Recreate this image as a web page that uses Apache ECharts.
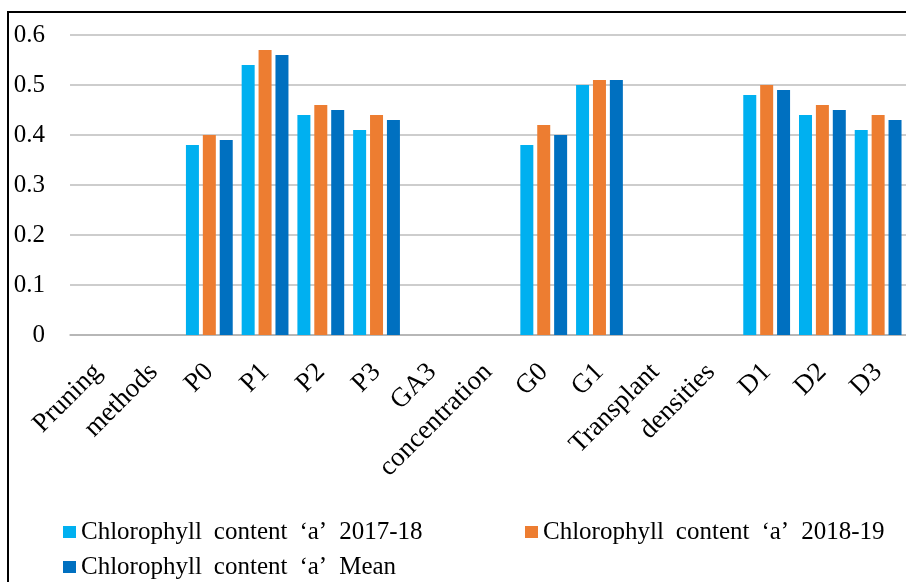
<!DOCTYPE html>
<html>
<head>
<meta charset="utf-8">
<script src="https://cdn.jsdelivr.net/npm/echarts@6/dist/echarts.min.js"></script>
<style>
  html, body { margin: 0; padding: 0; background: #ffffff; }
  #chart { width: 906px; height: 582px; }
</style>
</head>
<body>
<div id="chart"></div>
<script>
// Category labels along the x axis (group headings sit in their own empty slots)
const categories = ['Pruning', 'methods', 'P0', 'P1', 'P2', 'P3', 'GA3', 'concentration',
  'G0', 'G1', 'Transplant', 'densities', 'D1', 'D2', 'D3'];

const seriesNames = [
  'Chlorophyll content \u2018a\u2019 2017-18',
  'Chlorophyll content \u2018a\u2019 2018-19',
  'Chlorophyll content \u2018a\u2019 Mean'
];

// Chlorophyll 'a' values per category ('-' marks the heading slots with no bar)
const season2017 = ['-', '-', 0.38, 0.54, 0.44, 0.41, '-', '-', 0.38, 0.50, '-', '-', 0.48, 0.44, 0.41];
const season2018 = ['-', '-', 0.40, 0.57, 0.46, 0.44, '-', '-', 0.42, 0.51, '-', '-', 0.50, 0.46, 0.44];
const seasonMean = ['-', '-', 0.39, 0.56, 0.45, 0.43, '-', '-', 0.40, 0.51, '-', '-', 0.49, 0.45, 0.43];

const colors = ['#00B0F0', '#ED7D31', '#0070C0'];
const serif = "'Liberation Serif', 'Times New Roman', serif";

const chart = echarts.init(document.getElementById('chart'), null, { renderer: 'canvas' });

// legend labels use wider word spacing
const legendStyle = {
  icon: 'rect',
  itemWidth: 13,
  itemHeight: 12,
  formatter: name => name.split(' ').join('{s| }'),
  textStyle: {
    fontFamily: serif,
    fontSize: 25,
    lineHeight: 28,
    color: '#000',
    rich: {
      s: { width: 12, fontFamily: serif, fontSize: 25, lineHeight: 28 }
    }
  }
};

chart.setOption({
  animation: false,
  backgroundColor: '#ffffff',
  color: colors,
  graphic: [{
    type: 'rect',
    shape: { x: 8, y: 12, width: 1000, height: 1000 },
    style: { fill: 'none', stroke: '#000', lineWidth: 2 },
    silent: true
  }],
  legend: [
    Object.assign({ data: [seriesNames[0]], left: 58, top: 513 }, legendStyle),
    Object.assign({ data: [seriesNames[1]], left: 520, top: 513 }, legendStyle),
    Object.assign({ data: [seriesNames[2]], left: 58, top: 548 }, legendStyle)
  ],
  grid: { left: 70, top: 35, width: 845, height: 300, containLabel: false },
  xAxis: {
    type: 'category',
    data: categories,
    axisLine: { lineStyle: { color: '#b0b0b0', width: 1.5 } },
    axisTick: { show: false },
    axisLabel: {
      interval: 0,
      rotate: 45,
      margin: 33,
      fontFamily: serif,
      fontSize: 27,
      color: '#000'
    }
  },
  yAxis: {
    type: 'value',
    min: 0,
    max: 0.6,
    interval: 0.1,
    axisLine: { show: false },
    axisTick: { show: false },
    splitLine: { lineStyle: { color: '#bdbdbd', width: 1.5 } },
    axisLabel: {
      margin: 25,
      fontFamily: serif,
      fontSize: 25,
      color: '#000',
      formatter: v => (v === 0 ? '0' : v.toFixed(1))
    }
  },
  series: [
    { name: seriesNames[0], type: 'bar', data: season2017, barWidth: 13, barGap: '30%' },
    { name: seriesNames[1], type: 'bar', data: season2018, barWidth: 13, barGap: '30%' },
    { name: seriesNames[2], type: 'bar', data: seasonMean, barWidth: 13, barGap: '30%' }
  ]
});
</script>
</body>
</html>
